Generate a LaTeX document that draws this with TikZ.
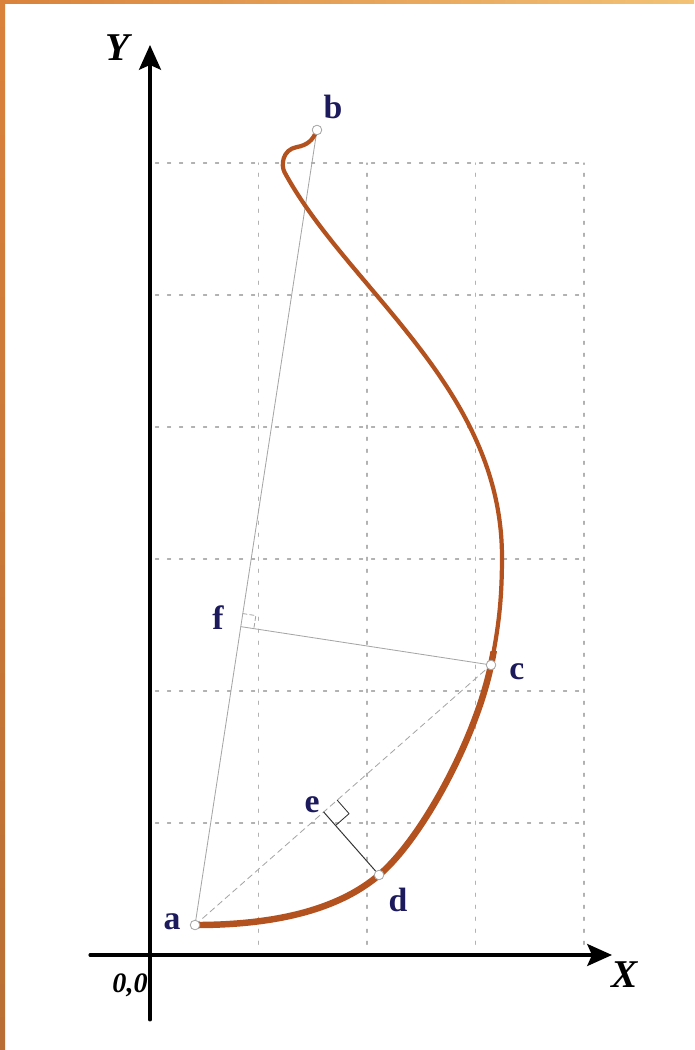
\documentclass[tikz,border=0pt]{standalone}
\usepackage{fontspec}
\setmainfont{Liberation Serif}
\usetikzlibrary{calc,arrows.meta}
\definecolor{rod}{HTML}{B4521F}
\definecolor{ink}{HTML}{1C1A5C}
\definecolor{frameA}{HTML}{D9823C}
\definecolor{frameB}{HTML}{F2C275}
\tikzset{
  pt/.style={circle,draw=gray!70,fill=white,line width=0.6pt,inner sep=0pt,minimum size=0.24cm},
  lbl/.style={text=ink,font=\fontsize{24}{24}\selectfont\bfseries,inner sep=0pt},
  axlbl/.style={font=\fontsize{28}{28}\selectfont\bfseries\itshape,inner sep=0pt},
  gridln/.style={gray!60,line width=0.8pt,dash pattern=on 0.08cm off 0.22cm},
  guide/.style={gray!70,line width=0.6pt},
  axis/.style={line width=2.2pt,-{Stealth[length=0.62cm,width=0.55cm,inset=0.12cm]}},
}

\begin{document}
\begin{tikzpicture}[x=2.7125cm,y=3.3cm,line cap=round,line join=round]
  \useasboundingbox (-1.3825,-0.7197) rectangle (5.0138,7.2348);
  % frame
  \shade[top color=frameA,bottom color=frameA!85!black] (-1.3825,-0.7197) rectangle (-1.3364,7.2348);
  \shade[left color=frameA,right color=frameB] (-1.3825,7.2045) rectangle (5.0138,7.2348);

  % grid
  \foreach \i in {1,...,4} \draw[gridln] (\i,0.08) -- (\i,6);
  \foreach \j in {1,...,6} \draw[gridln] (0.05,\j) -- (4,\j);

  % axes
  \draw[axis] (0,-0.492) -- (0,6.894);
  \draw[axis] (-0.553,0) -- (4.258,0);
  \node[axlbl] (ylab) at (-0.295,6.871) {Y};
  \node[axlbl] (xlab) at (4.378,-0.152) {X};
  \node[font=\fontsize{20}{20}\selectfont\bfseries\itshape,inner sep=0pt] (orig) at (-0.184,-0.227) {0,0};

  % points
  \coordinate (a) at (0.415,0.227);
  \coordinate (b) at (1.539,6.250);
  \coordinate (c) at (3.143,2.197);
  \coordinate (d) at (2.111,0.606);
  \coordinate (f) at ($(a)!(c)!(b)$);
  \coordinate (e) at ($(a)!(d)!(c)$);

  % chords and normals
  \draw[guide] (a) -- (b);
  \draw[guide] (f) -- (c);
  \draw[guide,dash pattern=on 0.15cm off 0.1cm] (a) -- (c);
  \draw[gray!40!black,line width=0.7pt] (e) -- (d);

  \coordinate (fb) at ($(f)!0.33cm!(b)$);
  \coordinate (fc) at ($(f)!0.33cm!(c)$);
  \draw[guide,densely dashed] (fb) -- ($(fb)+(fc)-(f)$) -- (fc);
  \coordinate (ec) at ($(e)!0.45cm!(c)$);
  \coordinate (ed) at ($(e)!0.45cm!(d)$);
  \draw[guide,gray!40!black] (ec) -- ($(ec)+(ed)-(e)$) -- (ed);

  % bent rod
  \path[save path=\rodp] (a) .. controls (1.1,0.227) and (1.711,0.326) .. (d)
    .. controls (2.511,0.886) and (3.005,1.647) .. (c)
    .. controls (3.218,2.497) and (3.244,2.715) .. (3.244,3.015)
    .. controls (3.244,4.3) and (1.822,5.046) .. (1.24,5.93)
    .. controls (1.205,5.983) and (1.22,6.10) .. (1.35,6.12)
    .. controls (1.45,6.135) and (1.50,6.17) .. (b);
  \draw[rod,line width=3pt,use path=\rodp];
  \begin{scope}
    \clip (-1,-0.5) rectangle (5,2.3);
    \draw[rod,line width=4.6pt,use path=\rodp];
  \end{scope}

  \node[pt] (na) at (a) {};
  \node[pt] (nb) at (b) {};
  \node[pt] (nc) at (c) {};
  \node[pt] (nd) at (d) {};

  \node[lbl] (la) at (0.203,0.250) {a};
  \node[lbl] (lb) at (1.687,6.424) {b};
  \node[lbl] (lc) at (3.382,2.144) {c};
  \node[lbl] (ld) at (2.286,0.417) {d};
  \node[lbl] (le) at (1.493,1.136) {e};
  \node[lbl] (lf) at (0.627,2.553) {f};
\end{tikzpicture}
\end{document}
